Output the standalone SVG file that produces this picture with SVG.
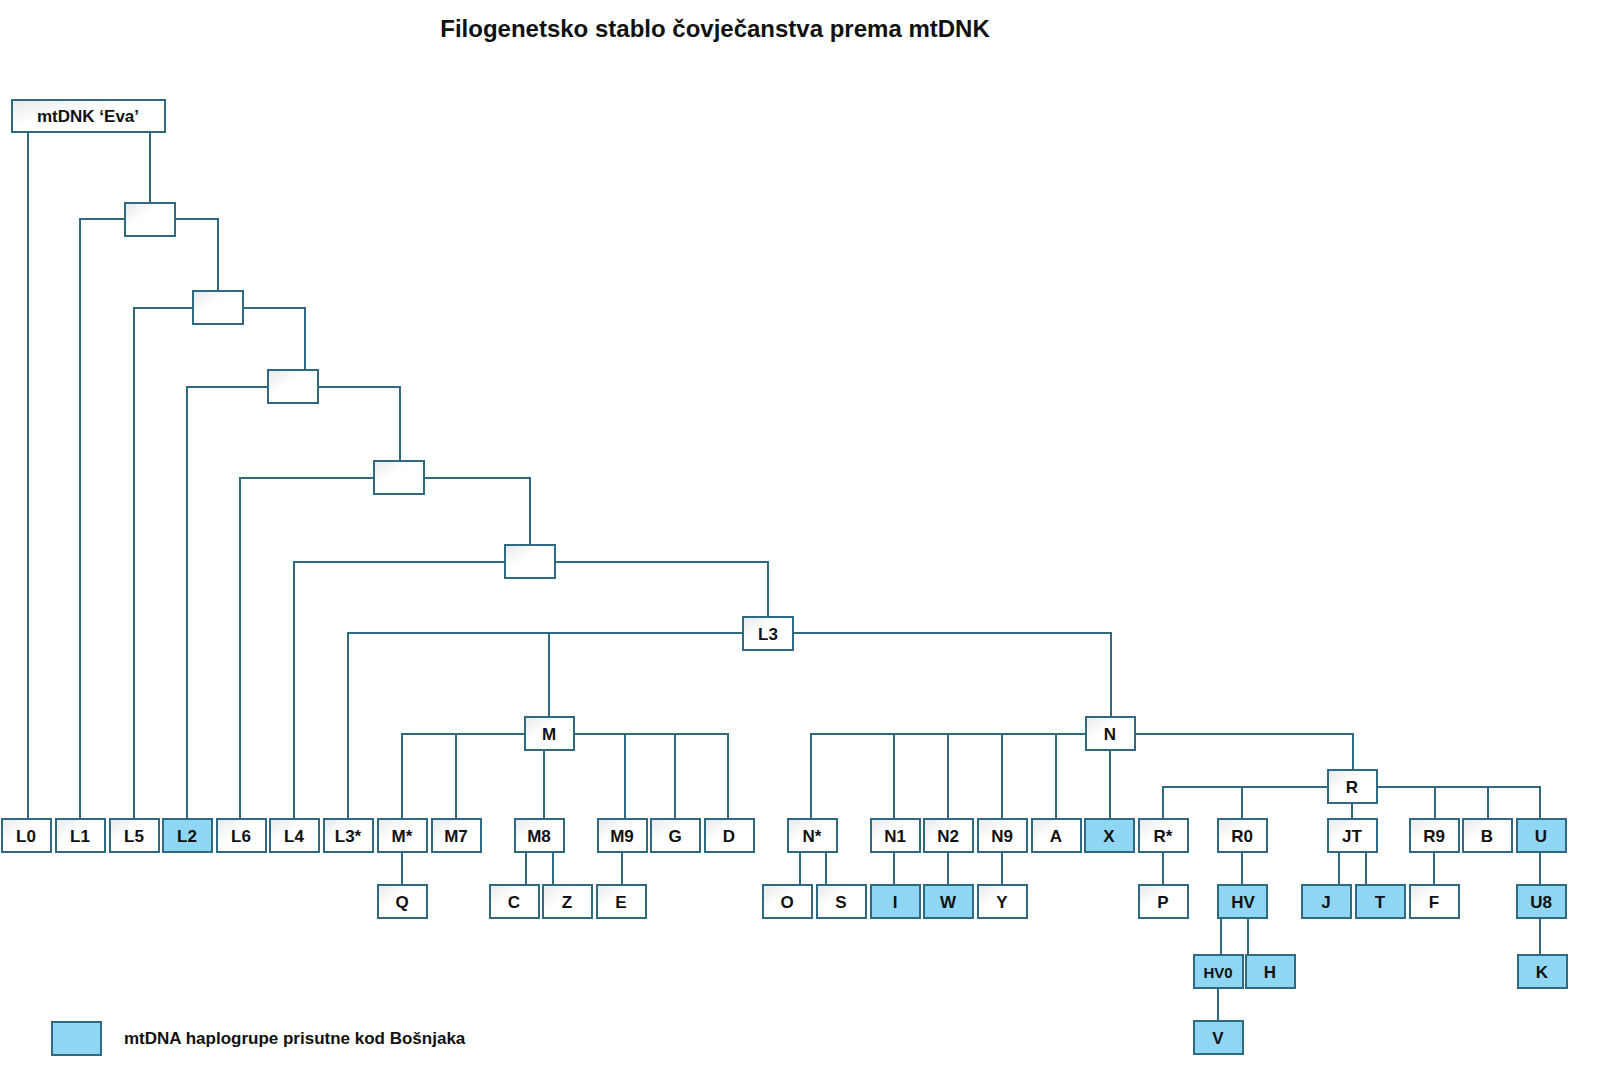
<svg xmlns="http://www.w3.org/2000/svg" width="1600" height="1083" viewBox="0 0 1600 1083">
<style>
rect{stroke:#2f6a80;stroke-width:2}
.w{fill:url(#g)}
.b{fill:#8ed6f3}
text{font-family:"Liberation Sans",Arial,sans-serif;font-weight:bold;font-size:17px;fill:#111;text-anchor:middle;dominant-baseline:central}
#c path{fill:none;stroke:#2f6a80;stroke-width:2}
</style>
<defs><linearGradient id="g" x1="0" y1="0" x2="1" y2="1"><stop offset="0" stop-color="#e6e8ea"/><stop offset="0.4" stop-color="#fff"/></linearGradient></defs>
<rect width="1600" height="1083" fill="#fff" style="stroke:none"/>
<text x="715" y="28" style="font-size:24px">Filogenetsko stablo čovječanstva prema mtDNK</text>
<g id="c">
<path d="M28 132V819M150 132V203M80 819V219H125M175 219H218V291M134 819V308H193M243 308H305V370M187 819V387H268M318 387H400V461M240 819V478H374M424 478H530V545M294 819V562H505M555 562H768V617M348 819V633H743M793 633H1111V717M549 633V717M544 750V819M402 819V734H525M456 819V734M574 734H728V819M625 734V819M675 734V819M811 819V734H1086M894 734V819M948 734V819M1002 734V819M1056 734V819M1110 750V819M1135 734H1353V770M1163 819V787H1328M1242 787V819M1377 787H1540V819M1435 787V819M1488 787V819M1352 803V819M402 852V885M526 852V885M553 852V885M622 852V885M800 852V885M826 852V885M894 852V885M948 852V885M1002 852V885M1163 852V885M1242 852V885M1339 852V885M1366 852V885M1434 852V885M1540 852V885M1221 918V955M1248 918V955M1218 988V1021M1540 918V955"/>
</g>
<g id="eva"><rect class="w" x="12" y="100" width="153" height="32"/><text x="88" y="116">mtDNK ‘Eva’</text></g>
<g id="n1"><rect class="w" x="125" y="203" width="50" height="33"/></g>
<g id="n2"><rect class="w" x="193" y="291" width="50" height="33"/></g>
<g id="n3"><rect class="w" x="268" y="370" width="50" height="33"/></g>
<g id="n4"><rect class="w" x="374" y="461" width="50" height="33"/></g>
<g id="n5"><rect class="w" x="505" y="545" width="50" height="33"/></g>
<g id="L3"><rect class="w" x="743" y="617" width="50" height="33"/><text x="768" y="634">L3</text></g>
<g id="M"><rect class="w" x="525" y="717" width="49" height="33"/><text x="549" y="734">M</text></g>
<g id="N"><rect class="w" x="1086" y="717" width="49" height="33"/><text x="1110" y="734">N</text></g>
<g id="R"><rect class="w" x="1328" y="770" width="49" height="33"/><text x="1352" y="787">R</text></g>
<g id="L0"><rect class="w" x="2" y="819" width="49" height="33"/><text x="26" y="836">L0</text></g>
<g id="L1"><rect class="w" x="56" y="819" width="49" height="33"/><text x="80" y="836">L1</text></g>
<g id="L5"><rect class="w" x="110" y="819" width="49" height="33"/><text x="134" y="836">L5</text></g>
<g id="L2"><rect class="b" x="163" y="819" width="49" height="33"/><text x="187" y="836">L2</text></g>
<g id="L6"><rect class="w" x="217" y="819" width="49" height="33"/><text x="241" y="836">L6</text></g>
<g id="L4"><rect class="w" x="270" y="819" width="49" height="33"/><text x="294" y="836">L4</text></g>
<g id="L3s"><rect class="w" x="324" y="819" width="49" height="33"/><text x="348" y="836">L3*</text></g>
<g id="Ms"><rect class="w" x="378" y="819" width="49" height="33"/><text x="402" y="836">M*</text></g>
<g id="M7"><rect class="w" x="432" y="819" width="49" height="33"/><text x="456" y="836">M7</text></g>
<g id="M8"><rect class="w" x="515" y="819" width="49" height="33"/><text x="539" y="836">M8</text></g>
<g id="M9"><rect class="w" x="598" y="819" width="49" height="33"/><text x="622" y="836">M9</text></g>
<g id="G"><rect class="w" x="651" y="819" width="49" height="33"/><text x="675" y="836">G</text></g>
<g id="D"><rect class="w" x="705" y="819" width="49" height="33"/><text x="729" y="836">D</text></g>
<g id="Ns"><rect class="w" x="788" y="819" width="49" height="33"/><text x="812" y="836">N*</text></g>
<g id="N1"><rect class="w" x="871" y="819" width="49" height="33"/><text x="895" y="836">N1</text></g>
<g id="N2"><rect class="w" x="924" y="819" width="49" height="33"/><text x="948" y="836">N2</text></g>
<g id="N9"><rect class="w" x="978" y="819" width="49" height="33"/><text x="1002" y="836">N9</text></g>
<g id="A"><rect class="w" x="1032" y="819" width="49" height="33"/><text x="1056" y="836">A</text></g>
<g id="X"><rect class="b" x="1085" y="819" width="49" height="33"/><text x="1109" y="836">X</text></g>
<g id="Rs"><rect class="w" x="1139" y="819" width="49" height="33"/><text x="1163" y="836">R*</text></g>
<g id="R0"><rect class="w" x="1218" y="819" width="49" height="33"/><text x="1242" y="836">R0</text></g>
<g id="JT"><rect class="w" x="1328" y="819" width="49" height="33"/><text x="1352" y="836">JT</text></g>
<g id="R9"><rect class="w" x="1410" y="819" width="49" height="33"/><text x="1434" y="836">R9</text></g>
<g id="B"><rect class="w" x="1463" y="819" width="49" height="33"/><text x="1487" y="836">B</text></g>
<g id="U"><rect class="b" x="1517" y="819" width="49" height="33"/><text x="1541" y="836">U</text></g>
<g id="Q"><rect class="w" x="378" y="885" width="49" height="33"/><text x="402" y="902">Q</text></g>
<g id="C"><rect class="w" x="490" y="885" width="49" height="33"/><text x="514" y="902">C</text></g>
<g id="Z"><rect class="w" x="543" y="885" width="49" height="33"/><text x="567" y="902">Z</text></g>
<g id="E"><rect class="w" x="597" y="885" width="49" height="33"/><text x="621" y="902">E</text></g>
<g id="O"><rect class="w" x="763" y="885" width="49" height="33"/><text x="787" y="902">O</text></g>
<g id="S"><rect class="w" x="817" y="885" width="49" height="33"/><text x="841" y="902">S</text></g>
<g id="I"><rect class="b" x="871" y="885" width="49" height="33"/><text x="895" y="902">I</text></g>
<g id="W"><rect class="b" x="924" y="885" width="49" height="33"/><text x="948" y="902">W</text></g>
<g id="Y"><rect class="w" x="978" y="885" width="49" height="33"/><text x="1002" y="902">Y</text></g>
<g id="P"><rect class="w" x="1139" y="885" width="49" height="33"/><text x="1163" y="902">P</text></g>
<g id="HV"><rect class="b" x="1218" y="885" width="49" height="33"/><text x="1243" y="902">HV</text></g>
<g id="J"><rect class="b" x="1302" y="885" width="49" height="33"/><text x="1326" y="902">J</text></g>
<g id="T"><rect class="b" x="1356" y="885" width="49" height="33"/><text x="1380" y="902">T</text></g>
<g id="F"><rect class="w" x="1410" y="885" width="49" height="33"/><text x="1434" y="902">F</text></g>
<g id="U8"><rect class="b" x="1517" y="885" width="49" height="33"/><text x="1541" y="902">U8</text></g>
<g id="HV0"><rect class="b" x="1194" y="955" width="49" height="33"/><text x="1218" y="972" style="font-size:15px">HV0</text></g>
<g id="H"><rect class="b" x="1246" y="955" width="49" height="33"/><text x="1270" y="972">H</text></g>
<g id="K"><rect class="b" x="1518" y="955" width="49" height="33"/><text x="1542" y="972">K</text></g>
<g id="V"><rect class="b" x="1194" y="1021" width="49" height="33"/><text x="1218" y="1038">V</text></g>
<g id="legend"><rect class="b" x="52" y="1022" width="49" height="33"/><text x="124" y="1038" style="text-anchor:start">mtDNA haplogrupe prisutne kod Bošnjaka</text></g>
</svg>
